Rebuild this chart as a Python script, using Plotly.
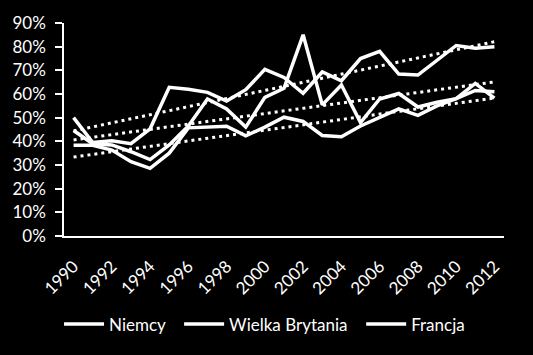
import numpy as np
import plotly.graph_objects as go

years = [str(y) for y in range(1990, 2013)]
tick_years = years[::2]

niemcy = [50.0, 39.5, 40.2, 39.0, 45.3, 62.8, 62.0, 60.7, 57.0, 61.8, 70.4, 67.0,
          60.3, 69.3, 65.6, 75.0, 78.0, 68.4, 68.0, 74.4, 80.5, 79.3, 80.0]
wielka_brytania = [44.6, 39.0, 38.5, 35.6, 32.3, 38.5, 46.5, 57.9, 53.7, 46.0, 58.6, 62.4,
                   85.0, 55.4, 63.8, 47.9, 57.9, 60.2, 54.5, 56.5, 58.0, 64.5, 58.3]
francja = [38.3, 38.3, 36.3, 31.4, 28.6, 35.0, 45.7, 46.0, 46.4, 42.3, 46.0, 50.2,
           48.4, 42.5, 41.9, 46.5, 50.2, 53.7, 51.0, 55.0, 58.0, 61.5, 61.0]

series = [("Niemcy", niemcy), ("Wielka Brytania", wielka_brytania), ("Francja", francja)]

FONT = "Lato, 'Open Sans', sans-serif"
fig = go.Figure()
idx = np.arange(len(years))
for name, vals in series:
    v = np.array(vals) / 100.0
    fig.add_trace(go.Scatter(x=years, y=v, mode="lines", name=name + "\u00a0\u00a0",
                             line=dict(color="white", width=3.5)))
for name, vals in series:
    v = np.array(vals) / 100.0
    k, b = np.polyfit(idx, v, 1)
    fig.add_trace(go.Scatter(x=years, y=k * idx + b, mode="lines", showlegend=False,
                             hoverinfo="skip",
                             line=dict(color="white", width=3, dash="3px,4px")))

fig.update_layout(
    width=533, height=355,
    paper_bgcolor="black", plot_bgcolor="black",
    margin=dict(l=64, r=29, t=23, b=117),
    font=dict(family=FONT, color="white", size=17),
    showlegend=True,
    legend=dict(orientation="h", x=0.466, xanchor="center", y=-0.415, yanchor="middle",
                font=dict(size=17, color="white"), bgcolor="rgba(0,0,0,0)",
                itemwidth=40, tracegroupgap=0),
)
fig.update_xaxes(type="category", range=[-0.5, 22.5], tickmode="array",
                 tickvals=tick_years, ticktext=tick_years, tickangle=-45,
                 showgrid=False, zeroline=False, showline=True, linecolor="white",
                 linewidth=1.5, ticks="", ticklabelstandoff=12,
                 tickfont=dict(size=17, color="white"))
fig.update_yaxes(range=[0, 0.9], dtick=0.1, tick0=0, tickformat=".0%",
                 showgrid=False, zeroline=False, showline=True, linecolor="white",
                 linewidth=1.5, ticks="outside", ticklen=7, tickcolor="white",
                 tickwidth=1.5, ticklabelstandoff=6,
                 tickfont=dict(size=17, color="white"))

fig.write_html("out.html")
